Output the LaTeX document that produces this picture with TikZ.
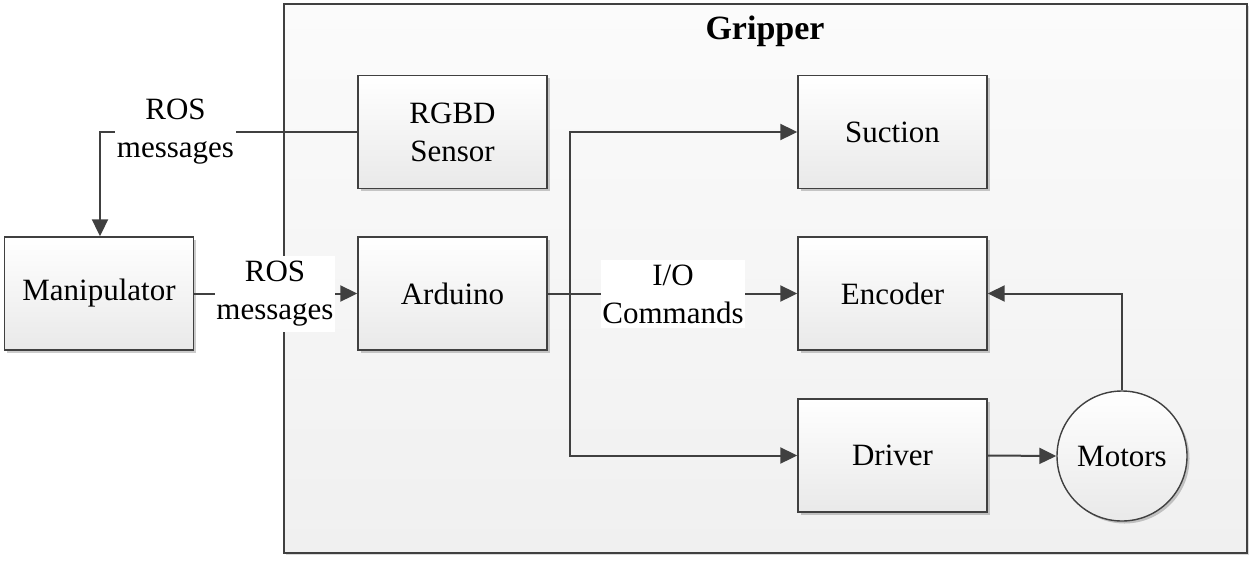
\documentclass[tikz,border=0pt]{standalone}
\usepackage{fontspec}
\setmainfont{Liberation Serif}
\usetikzlibrary{arrows.meta,shadows}
\definecolor{linec}{HTML}{404040}
\definecolor{boxbot}{HTML}{E9E9E9}
\definecolor{griptop}{HTML}{FBFBFB}
\definecolor{gripbot}{HTML}{F0F0F0}
\begin{document}
\begin{tikzpicture}[x=1pt,y=-1pt,
  txt/.style={font=\fontsize{31}{38}\selectfont, align=center},
  blk/.style={txt, draw=linec, line width=1.4pt, top color=white, bottom color=boxbot,
    minimum width=189pt, minimum height=113pt, inner sep=0pt,
    drop shadow={shadow xshift=2.5pt, shadow yshift=-2.5pt, opacity=0.2, fill=black}},
  circ/.style={blk, circle, minimum size=130pt},
  gripbox/.style={draw=linec, line width=1.4pt, top color=griptop, bottom color=gripbot,
    minimum width=963pt, minimum height=549pt, inner sep=0pt,
    drop shadow={shadow xshift=2pt, shadow yshift=-2pt, opacity=0.15, fill=black}},
  lbl/.style={txt, fill=white, inner xsep=1.5pt, inner ysep=5pt},
  conn/.style={draw=linec, line width=2pt},
  arr/.style={conn, -{Triangle[length=17pt,width=16pt]}}
]
\useasboundingbox (0,0) rectangle (1252,560);
\node[gripbox] (grip) at (765.5,278.5) {};
\node[font=\fontsize{34}{40}\selectfont\bfseries] (gtitle) at (765,31) {Gripper};

\node[blk] (manip) at (99,293.5) {Manipulator};
\node[blk] (rgbd) at (452.5,132) {RGBD\\Sensor};
\node[blk] (ard) at (452.5,293.5) {Arduino};
\node[blk] (suc) at (892.5,132) {Suction};
\node[blk] (enc) at (892.5,293.5) {Encoder};
\node[blk] (drv) at (892.5,455.5) {Driver};
\node[circ] (mot) at (1122,456) {Motors};

\coordinate (c1) at (100,132);
\coordinate (split) at (570,293.5);

\draw[arr] (rgbd.west) -- (c1) -- (c1 |- manip.north);
\draw[arr] (manip.east) -- (ard.west);
\draw[arr] (ard.east) -- (enc.west);
\draw[arr] (split) |- (suc.west);
\draw[arr] (split) |- (drv.west);
\draw[arr] (drv.east) -- (mot.west);
\draw[arr] (mot.north) |- (enc.east);

\node[lbl] (l1) at (175.5,132) {ROS\\messages};
\node[lbl] (l2) at (275,294) {ROS\\messages};
\node[lbl] (l3) at (673,294) {I/O\\Commands};
\end{tikzpicture}
\end{document}
